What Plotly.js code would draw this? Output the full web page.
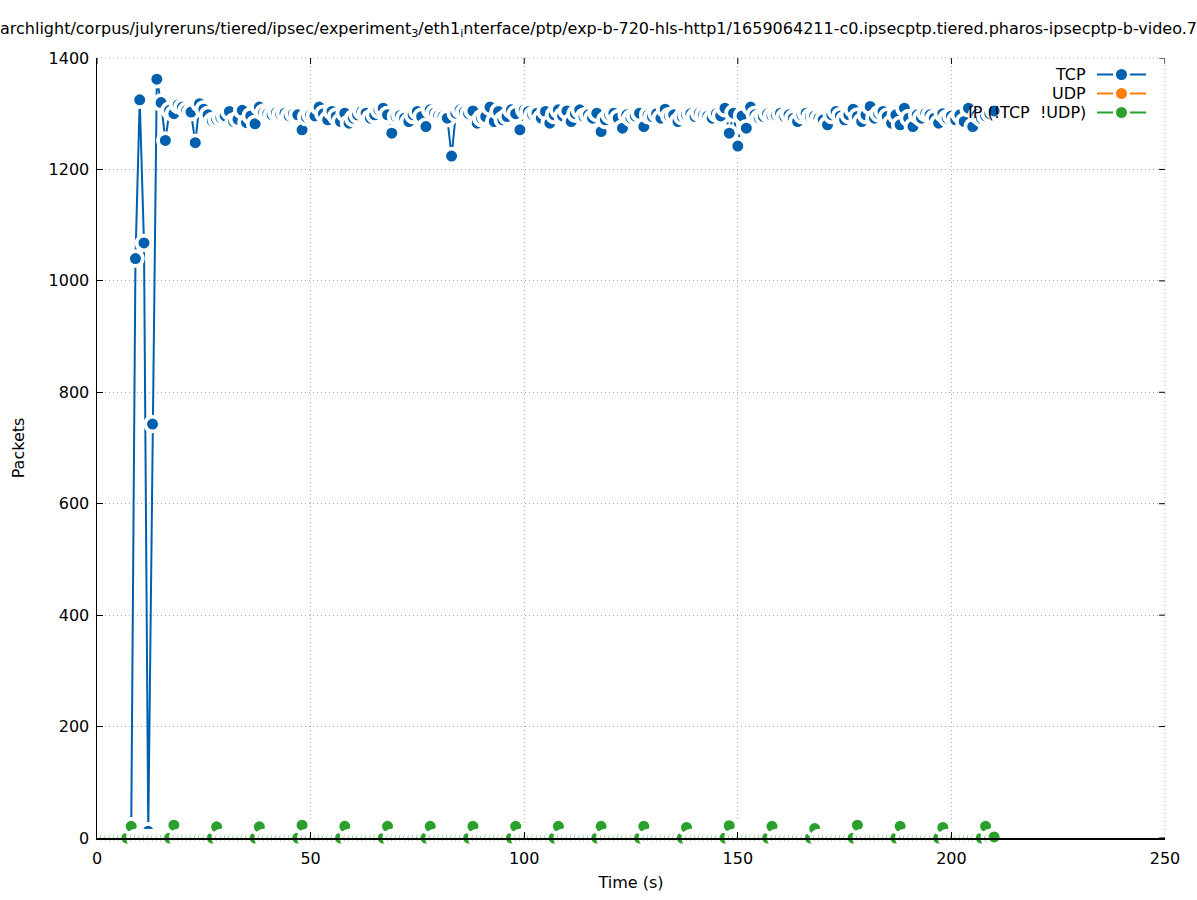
<!DOCTYPE html>
<html>
<head>
<meta charset="utf-8">
<script src="https://cdn.plot.ly/plotly-3.0.1.min.js"></script>
<style>html,body{margin:0;padding:0;background:#fff;}#chart{width:1197px;height:900px;}</style>
</head>
<body>
<div id="chart"></div>
<script>
// ---- data ----
const tcpTime = [8,9,10,11,12,13,14,15,16,17,18,19,20,21,22,23,24,25,26,27,28,29,30,31,32,33,34,35,36,37,38,39,40,41,42,43,44,45,46,47,48,49,50,51,52,53,54,55,56,57,58,59,60,61,62,63,64,65,66,67,68,69,70,71,72,73,74,75,76,77,78,79,80,81,82,83,84,85,86,87,88,89,90,91,92,93,94,95,96,97,98,99,100,101,102,103,104,105,106,107,108,109,110,111,112,113,114,115,116,117,118,119,120,121,122,123,124,125,126,127,128,129,130,131,132,133,134,135,136,137,138,139,140,141,142,143,144,145,146,147,148,149,150,151,152,153,154,155,156,157,158,159,160,161,162,163,164,165,166,167,168,169,170,171,172,173,174,175,176,177,178,179,180,181,182,183,184,185,186,187,188,189,190,191,192,193,194,195,196,197,198,199,200,201,202,203,204,205,206,207,208,209,210];
const tcpPackets = [
  5, 1040, 1325, 1068, 12, 743, 1362, 1320, 1252, 1306,
  1300, 1316, 1312, 1306, 1303, 1248, 1318, 1308, 1298, 1287,
  1290, 1293, 1296, 1304, 1286, 1290, 1306, 1284, 1296, 1282,
  1312, 1302, 1300, 1298, 1302, 1299, 1301, 1296, 1300, 1298,
  1271, 1294, 1298, 1296, 1312, 1300, 1289, 1304, 1295, 1286,
  1301, 1283, 1292, 1298, 1304, 1301, 1292, 1298, 1307, 1310,
  1298, 1265, 1295, 1297, 1292, 1286, 1298, 1304, 1295, 1277,
  1307, 1301, 1297, 1295, 1292, 1224, 1301, 1307, 1303, 1300,
  1305, 1283, 1292, 1295, 1312, 1286, 1304, 1289, 1295, 1307,
  1300, 1271, 1307, 1304, 1298, 1301, 1292, 1304, 1283, 1298,
  1307, 1296, 1305, 1286, 1300, 1307, 1295, 1298, 1292, 1301,
  1268, 1289, 1298, 1301, 1292, 1274, 1298, 1292, 1296, 1301,
  1277, 1298, 1295, 1300, 1292, 1308, 1296, 1298, 1286, 1295,
  1298, 1300, 1295, 1301, 1298, 1296, 1292, 1300, 1296, 1310,
  1265, 1301, 1242, 1296, 1274, 1312, 1298, 1292, 1295, 1300,
  1296, 1298, 1301, 1295, 1298, 1292, 1286, 1298, 1301, 1295,
  1296, 1292, 1289, 1280, 1298, 1304, 1296, 1289, 1298, 1308,
  1295, 1286, 1298, 1313, 1292, 1300, 1304, 1295, 1283, 1298,
  1280, 1310, 1292, 1277, 1298, 1292, 1301, 1298, 1292, 1283,
  1300, 1292, 1296, 1289, 1298, 1286, 1310, 1277, 1298, 1292,
  1296, 1300, 1305
];
const udpTime = [];
const udpPackets = [];
const ipTime = [2,3,4,5,6,7,8,9,10,11,12,13,14,15,16,17,18,19,20,21,22,23,24,25,26,27,28,29,30,31,32,33,34,35,36,37,38,39,40,41,42,43,44,45,46,47,48,49,50,51,52,53,54,55,56,57,58,59,60,61,62,63,64,65,66,67,68,69,70,71,72,73,74,75,76,77,78,79,80,81,82,83,84,85,86,87,88,89,90,91,92,93,94,95,96,97,98,99,100,101,102,103,104,105,106,107,108,109,110,111,112,113,114,115,116,117,118,119,120,121,122,123,124,125,126,127,128,129,130,131,132,133,134,135,136,137,138,139,140,141,142,143,144,145,146,147,148,149,150,151,152,153,154,155,156,157,158,159,160,161,162,163,164,165,166,167,168,169,170,171,172,173,174,175,176,177,178,179,180,181,182,183,184,185,186,187,188,189,190,191,192,193,194,195,196,197,198,199,200,201,202,203,204,205,206,207,208,209,210];
const ipPackets = [
  0, 0, 0, 0, 0, 0,
  21, 0, 0, 0, 0, 0, 0, 0, 0, 0,
  23, 0, 0, 0, 0, 0, 0, 0, 0, 0,
  20, 0, 0, 0, 0, 0, 0, 0, 0, 0,
  20, 0, 0, 0, 0, 0, 0, 0, 0, 0,
  23, 0, 0, 0, 0, 0, 0, 0, 0, 0,
  21, 0, 0, 0, 0, 0, 0, 0, 0, 0,
  21, 0, 0, 0, 0, 0, 0, 0, 0, 0,
  21, 0, 0, 0, 0, 0, 0, 0, 0, 0,
  21, 0, 0, 0, 0, 0, 0, 0, 0, 0,
  21, 0, 0, 0, 0, 0, 0, 0, 0, 0,
  21, 0, 0, 0, 0, 0, 0, 0, 0, 0,
  21, 0, 0, 0, 0, 0, 0, 0, 0, 0,
  21, 0, 0, 0, 0, 0, 0, 0, 0, 0,
  19, 0, 0, 0, 0, 0, 0, 0, 0, 0,
  22, 0, 0, 0, 0, 0, 0, 0, 0, 0,
  21, 0, 0, 0, 0, 0, 0, 0, 0, 0,
  17, 0, 0, 0, 0, 0, 0, 0, 0, 0,
  23, 0, 0, 0, 0, 0, 0, 0, 0, 0,
  21, 0, 0, 0, 0, 0, 0, 0, 0, 0,
  19, 0, 0, 0, 0, 0, 0, 0, 0, 0,
  21, 0, 2
];
const seriesNames = ['TCP', 'UDP', 'IP (!TCP&nbsp;&nbsp;!UDP)'];
const seriesColors = ['#0060ad', '#ff7f0e', '#2ca02c'];
const xTicks = [0, 50, 100, 150, 200, 250];
const yTicks = [0, 200, 400, 600, 800, 1000, 1200, 1400];
const titleText = 'archlight/corpus/julyreruns/tiered/ipsec/experiment<sub>3</sub>/eth1<sub>i</sub>nterface/ptp/exp-b-720-hls-http1/1659064211-c0.ipsecptp.tiered.pharos-ipsecptp-b-video.7';

// ---- chart ----
const FONT = 'DejaVu Sans, Liberation Sans, sans-serif';
function series(x, y, name, color) {
  return {
    type: 'scatter', mode: 'lines+markers', x: x, y: y, name: name,
    line: {color: color, width: 2},
    marker: {symbol: 'circle', size: 14.8, color: color, line: {color: '#ffffff', width: 3.8}},
    cliponaxis: false, showlegend: false, hoverinfo: 'skip'
  };
}
const traces = [
  series(tcpTime, tcpPackets, seriesNames[0], seriesColors[0]),
  series(udpTime, udpPackets, seriesNames[1], seriesColors[1]),
  series(ipTime, ipPackets, seriesNames[2], seriesColors[2])
];

const L = 97, R = 32, T = 58, B = 62, W = 1197, H = 900;
const pw = W - L - R, ph = H - T - B;
const px2x = p => (p - L) / pw;
const py2y = p => (H - B - p) / ph;
const GRID = '#a8a8a8';
const GRIDDASH = '1px,3px';

const shapes = [], annotations = [];
// dotted grid lines on the top and right edges (ranges end exactly there)
shapes.push({type: 'line', xref: 'paper', yref: 'paper', x0: 0, x1: 1, y0: 1, y1: 1, line: {color: GRID, width: 1, dash: GRIDDASH}, layer: 'below'});
shapes.push({type: 'line', xref: 'paper', yref: 'paper', x0: 1, x1: 1, y0: 0, y1: 1, line: {color: GRID, width: 1, dash: GRIDDASH}, layer: 'below'});
// mirrored inward ticks on the top and right edges
xTicks.forEach(v => shapes.push({type: 'line', xref: 'x', yref: 'paper', ysizemode: 'pixel', yanchor: 1, x0: v, x1: v, y0: -6, y1: 0,
  line: {color: '#000', width: 1}, layer: 'above'}));
yTicks.forEach(v => shapes.push({type: 'line', xref: 'paper', yref: 'y', xsizemode: 'pixel', xanchor: 1, y0: v, y1: v, x0: -6, x1: 0,
  line: {color: '#000', width: 1}, layer: 'above'}));

const legendRows = [74.5, 93.5, 112.5];
for (let i = 0; i < 3; i++) {
  const yy = py2y(legendRows[i]);
  shapes.push({type: 'line', xref: 'paper', yref: 'paper', x0: px2x(1097), x1: px2x(1146), y0: yy, y1: yy,
    line: {color: seriesColors[i], width: 2}, layer: 'above'});
  shapes.push({type: 'circle', xref: 'paper', yref: 'paper', xsizemode: 'pixel', ysizemode: 'pixel',
    xanchor: px2x(1121.5), yanchor: yy, x0: -7, x1: 7, y0: -7, y1: 7,
    fillcolor: seriesColors[i], line: {color: '#ffffff', width: 3}, layer: 'above'});
  annotations.push({xref: 'paper', yref: 'paper', x: px2x(1088), y: yy, xanchor: 'right', yanchor: 'middle',
    text: seriesNames[i], showarrow: false, font: {family: FONT, size: 16, color: '#000'}});
}

const gridStyle = {showgrid: true, gridcolor: GRID, griddash: GRIDDASH, gridwidth: 1};
const layout = {
  width: W, height: H,
  margin: {l: L, r: R, t: T, b: B},
  paper_bgcolor: '#ffffff', plot_bgcolor: '#ffffff',
  font: {family: FONT, size: 16, color: '#000'},
  showlegend: false,
  title: {text: titleText, xref: 'container', yref: 'container', x: 0, xanchor: 'left', y: 1 - 28 / H, yanchor: 'middle',
    pad: {l: 0, r: 0, t: 0, b: 0}, font: {family: FONT, size: 16, color: '#000'}},
  xaxis: Object.assign({
    range: [0, 250], tickvals: xTicks, ticktext: xTicks.map(String), ticks: 'inside', ticklen: 6, tickwidth: 1, tickcolor: '#000',
    showline: true, linecolor: '#000', linewidth: 1.5, zeroline: false, mirror: false, ticklabelstandoff: 5,
    title: {text: 'Time (s)', font: {family: FONT, size: 16}, standoff: 10},
    tickfont: {family: FONT, size: 16}, layer: 'above traces'
  }, gridStyle),
  yaxis: Object.assign({
    range: [0, 1400], tickvals: yTicks, ticktext: yTicks.map(String), ticks: 'inside', ticklen: 6, tickwidth: 1, tickcolor: '#000',
    showline: true, linecolor: '#000', linewidth: 1.5, zeroline: false, mirror: false, ticklabelstandoff: 3,
    title: {text: 'Packets', font: {family: FONT, size: 16}, standoff: 20},
    tickfont: {family: FONT, size: 16}, layer: 'above traces'
  }, gridStyle),
  shapes: shapes,
  annotations: annotations
};
Plotly.newPlot('chart', traces, layout, {staticPlot: true, displayModeBar: false});
</script>
</body>
</html>
